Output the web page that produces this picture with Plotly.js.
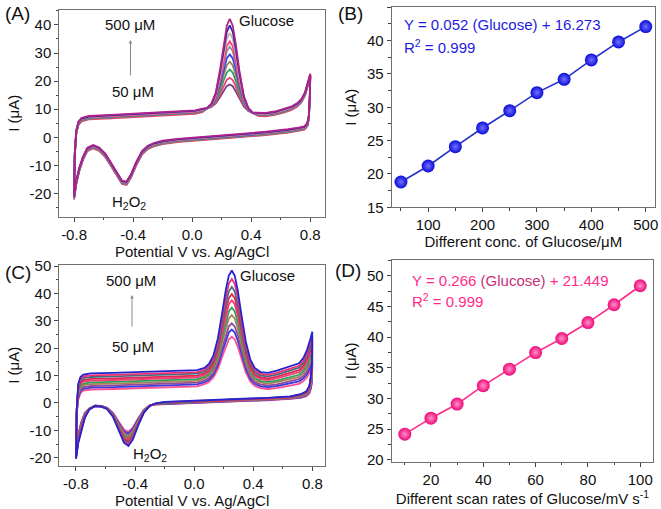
<!DOCTYPE html>
<html>
<head>
<meta charset="utf-8">
<script src="https://cdn.plot.ly/plotly-3.0.1.min.js"></script>
<style>html,body{margin:0;padding:0;background:#fff;}#chart{width:661px;height:509px;}</style>
</head>
<body>
<div id="chart"></div>
<script>
// ---------- shared potential grids (V vs Ag/AgCl) ----------
const UX = [-0.8, -0.795, -0.785, -0.77, -0.75, -0.7, -0.55, -0.4, -0.25, -0.1, 0.02, 0.07, 0.1, 0.13, 0.16, 0.19, 0.215, 0.235, 0.255, 0.275, 0.295, 0.32, 0.35, 0.38, 0.41, 0.45, 0.5, 0.56, 0.62, 0.67, 0.71, 0.74, 0.765, 0.785, 0.8];
const LX = [0.797, 0.79, 0.78, 0.76, 0.72, 0.65, 0.5, 0.35, 0.2, 0.05, -0.1, -0.2, -0.26, -0.3, -0.34, -0.38, -0.415, -0.445, -0.475, -0.51, -0.55, -0.59, -0.63, -0.67, -0.71, -0.74, -0.765, -0.785, -0.795, -0.8];

// ---------- panel A: CVs at glucose 50..500 uM (forward / reverse scans, I in uA) ----------
const A_names = ['50 μM','100 μM','150 μM','200 μM','250 μM','300 μM','350 μM','400 μM','450 μM','500 μM'];
const A_colors = ['#7a3a8a','#f0407a','#2e9e5a','#a5805a','#3040e8','#8a8a9a','#ff3a7a','#c8b49a','#2a2ab0','#b0208a'];
const A_forward = [
 [-21.9,-6.4,1.6,4.6,5.9,6.6,7.0,7.4,7.7,8.1,8.6,9.2,10.3,10.8,12.1,14.4,16.7,18.3,18.8,18.2,16.4,13.7,11.0,9.4,8.7,7.8,7.7,8.2,9.0,9.9,11.1,12.6,15.1,18.6,21.6],
 [-22.1,-6.6,1.4,4.4,5.7,6.4,6.8,7.2,7.5,7.9,8.4,9.0,10.3,11.0,12.5,15.4,18.5,20.5,21.2,20.4,18.2,14.7,11.4,9.6,8.7,7.6,7.5,8.0,8.8,9.7,10.9,12.4,14.9,18.4,21.4],
 [-21.8,-6.3,1.7,4.7,6.0,6.7,7.1,7.5,7.8,8.2,8.7,9.3,10.3,11.1,13.0,16.6,20.5,23.1,24.1,23.0,20.2,15.9,11.9,9.7,8.7,7.9,7.8,8.3,9.1,10.0,11.2,12.7,15.2,18.7,21.7],
 [-21.7,-6.2,1.8,4.8,6.1,6.8,7.2,7.6,7.9,8.3,8.8,9.4,10.3,11.2,13.4,17.8,22.5,25.7,26.9,25.6,22.2,17.1,12.3,9.8,8.7,8.0,7.9,8.4,9.2,10.1,11.3,12.8,15.3,18.8,21.8],
 [-21.5,-6.0,2.0,5.0,6.3,7.0,7.4,7.8,8.1,8.5,9.0,9.6,10.3,11.3,13.9,19.0,24.5,28.2,29.5,28.1,24.2,18.3,12.8,9.9,8.7,8.2,8.1,8.6,9.4,10.3,11.5,13.0,15.5,19.0,22.0],
 [-21.4,-5.9,2.1,5.1,6.4,7.1,7.5,7.9,8.2,8.6,9.1,9.7,10.4,11.4,14.3,20.2,26.5,30.7,32.2,30.6,26.2,19.5,13.2,10.0,8.8,8.3,8.2,8.7,9.5,10.4,11.6,13.1,15.6,19.1,22.1],
 [-21.3,-5.8,2.2,5.2,6.5,7.2,7.6,8.0,8.3,8.7,9.2,9.8,10.4,11.5,14.6,21.0,27.9,32.5,34.2,32.4,27.6,20.3,13.5,10.1,8.8,8.4,8.3,8.8,9.6,10.5,11.7,13.2,15.7,19.2,22.2],
 [-21.2,-5.7,2.3,5.3,6.6,7.3,7.7,8.1,8.4,8.8,9.3,9.9,10.4,11.7,15.1,22.2,30.0,35.1,37.1,35.0,29.7,21.5,14.0,10.3,8.8,8.5,8.4,8.9,9.7,10.6,11.8,13.3,15.8,19.3,22.3],
 [-21.1,-5.6,2.4,5.4,6.7,7.4,7.8,8.2,8.5,8.9,9.4,10.0,10.4,11.8,15.5,23.4,31.9,37.6,39.8,37.5,31.6,22.7,14.4,10.4,8.8,8.6,8.5,9.0,9.8,10.7,11.9,13.4,15.9,19.4,22.4],
 [-20.9,-5.4,2.6,5.6,6.9,7.6,8.0,8.4,8.7,9.1,9.6,10.2,10.4,11.9,15.9,24.4,33.7,39.8,42.1,39.7,33.4,23.7,14.8,10.5,8.8,8.8,8.7,9.2,10.0,10.9,12.1,13.6,16.1,19.6,22.6]
];
const A_reverse = [
 [13.6,6.6,4.1,2.9,2.5,1.9,1.0,0.3,-0.3,-0.9,-1.5,-2.2,-3.0,-4.0,-5.9,-9.9,-14.2,-16.7,-16.4,-13.6,-10.0,-6.7,-4.6,-3.7,-4.7,-7.9,-11.9,-16.4,-20.4,-21.9],
 [13.4,6.4,3.9,2.7,2.3,1.7,0.8,0.1,-0.5,-1.1,-1.7,-2.4,-3.2,-4.2,-6.1,-10.1,-14.4,-16.9,-16.6,-13.8,-10.2,-6.9,-4.8,-3.9,-4.9,-8.1,-12.1,-16.6,-20.6,-22.1],
 [13.7,6.7,4.2,3.0,2.6,2.0,1.1,0.4,-0.2,-0.8,-1.4,-2.1,-2.9,-3.9,-5.8,-9.8,-14.1,-16.6,-16.3,-13.5,-9.9,-6.6,-4.5,-3.6,-4.6,-7.8,-11.8,-16.3,-20.3,-21.8],
 [13.8,6.8,4.3,3.1,2.7,2.1,1.2,0.5,-0.1,-0.7,-1.3,-2.0,-2.8,-3.8,-5.7,-9.7,-14.0,-16.5,-16.2,-13.4,-9.8,-6.5,-4.4,-3.5,-4.5,-7.7,-11.7,-16.2,-20.2,-21.7],
 [14.0,7.0,4.5,3.3,2.9,2.3,1.4,0.7,0.1,-0.5,-1.1,-1.8,-2.6,-3.6,-5.5,-9.5,-13.8,-16.3,-16.0,-13.2,-9.6,-6.3,-4.2,-3.3,-4.3,-7.5,-11.5,-16.0,-20.0,-21.5],
 [14.1,7.1,4.6,3.4,3.0,2.4,1.5,0.8,0.2,-0.4,-1.0,-1.7,-2.5,-3.5,-5.4,-9.4,-13.7,-16.2,-15.9,-13.1,-9.5,-6.2,-4.1,-3.2,-4.2,-7.4,-11.4,-15.9,-19.9,-21.4],
 [14.2,7.2,4.7,3.5,3.1,2.5,1.6,0.9,0.3,-0.3,-0.9,-1.6,-2.4,-3.4,-5.3,-9.3,-13.6,-16.1,-15.8,-13.0,-9.4,-6.1,-4.0,-3.1,-4.1,-7.3,-11.3,-15.8,-19.8,-21.3],
 [14.3,7.3,4.8,3.6,3.2,2.6,1.7,1.0,0.4,-0.2,-0.8,-1.5,-2.3,-3.3,-5.2,-9.2,-13.5,-16.0,-15.7,-12.9,-9.3,-6.0,-3.9,-3.0,-4.0,-7.2,-11.2,-15.7,-19.7,-21.2],
 [14.4,7.4,4.9,3.7,3.3,2.7,1.8,1.1,0.5,-0.1,-0.7,-1.4,-2.2,-3.2,-5.1,-9.1,-13.4,-15.9,-15.6,-12.8,-9.2,-5.9,-3.8,-2.9,-3.9,-7.1,-11.1,-15.6,-19.6,-21.1],
 [14.6,7.6,5.1,3.9,3.5,2.9,2.0,1.3,0.7,0.1,-0.5,-1.2,-2.0,-3.0,-4.9,-8.9,-13.2,-15.7,-15.4,-12.6,-9.0,-5.7,-3.6,-2.7,-3.7,-6.9,-10.9,-15.4,-19.4,-20.9]
];

// ---------- panel B: peak current vs glucose concentration ----------
const B_conc = [50, 100, 150, 200, 250, 300, 350, 400, 450, 500];
const B_current = [18.8, 21.2, 24.1, 26.9, 29.5, 32.2, 34.2, 37.1, 39.8, 42.1];

// ---------- panel C: CVs at scan rates 10..100 mV/s ----------
const C_names = ['10 mV/s','20 mV/s','30 mV/s','40 mV/s','50 mV/s','60 mV/s','70 mV/s','80 mV/s','90 mV/s','100 mV/s'];
const C_colors = ['#ff4f8f','#3a3ae0','#8e4aa0','#a8805a','#2ea05a','#f0407a','#e02850','#3f6f80','#f03070','#2424d0'];
const C_forward = [
 [-19.0,-4.0,1.1,3.6,4.5,4.9,5.1,5.3,5.5,5.7,6.1,6.9,7.7,9.3,12.3,16.9,20.9,23.3,24.2,23.2,20.6,16.2,11.2,7.9,6.2,5.4,5.1,5.4,6.0,6.5,7.0,8.0,9.5,11.5,13.0],
 [-19.2,-3.8,1.8,4.3,5.2,5.6,5.8,6.0,6.2,6.4,6.8,7.6,8.5,10.2,13.6,18.6,23.1,25.8,26.8,25.7,22.8,17.9,12.5,8.8,7.0,6.1,5.8,6.2,6.8,7.3,7.9,9.0,10.7,12.8,14.5],
 [-19.3,-3.6,2.4,4.9,5.8,6.2,6.4,6.6,6.8,7.0,7.4,8.2,9.1,11.0,14.7,20.2,25.1,28.0,29.1,27.9,24.8,19.5,13.6,9.6,7.6,6.7,6.4,6.8,7.5,8.1,8.7,9.9,11.7,14.0,15.9],
 [-19.5,-3.4,3.1,5.6,6.5,6.9,7.1,7.3,7.5,7.7,8.1,8.9,9.9,12.0,16.0,22.2,27.6,30.9,32.1,30.8,27.3,21.5,14.9,10.6,8.4,7.4,7.1,7.6,8.3,8.9,9.5,10.9,12.9,15.4,17.4],
 [-19.6,-3.2,3.7,6.2,7.1,7.5,7.7,7.9,8.1,8.3,8.7,9.5,10.6,12.8,17.2,23.9,29.9,33.5,34.8,33.4,29.6,23.2,16.1,11.4,9.1,8.0,7.7,8.2,9.0,9.7,10.3,11.8,13.9,16.6,18.8],
 [-19.8,-3.0,4.4,6.9,7.8,8.2,8.4,8.6,8.8,9.0,9.4,10.2,11.4,13.7,18.5,25.7,32.2,36.1,37.5,36.0,31.9,25.0,17.4,12.3,9.9,8.7,8.4,9.0,9.8,10.5,11.2,12.8,15.1,17.9,20.3],
 [-19.9,-2.8,5.0,7.5,8.4,8.8,9.0,9.2,9.4,9.6,10.0,10.8,12.0,14.5,19.6,27.3,34.2,38.3,39.8,38.2,33.9,26.6,18.5,13.1,10.5,9.3,9.0,9.6,10.5,11.2,12.0,13.6,16.1,19.1,21.6],
 [-20.1,-2.6,5.7,8.2,9.1,9.5,9.7,9.9,10.1,10.3,10.7,11.5,12.8,15.4,20.8,29.0,36.4,40.8,42.4,40.7,36.1,28.3,19.7,14.0,11.3,10.0,9.7,10.4,11.3,12.1,12.9,14.6,17.3,20.4,23.1],
 [-20.2,-2.4,6.3,8.8,9.7,10.1,10.3,10.5,10.7,10.9,11.3,12.1,13.5,16.3,22.1,30.9,38.9,43.6,45.3,43.5,38.6,30.2,21.0,14.9,12.0,10.6,10.3,11.0,12.0,12.8,13.6,15.5,18.3,21.7,24.5],
 [-20.4,-2.2,7.0,9.5,10.4,10.8,11.0,11.2,11.4,11.6,12.0,12.8,14.3,17.3,23.5,33.0,41.5,46.5,48.4,46.4,41.2,32.3,22.4,15.9,12.8,11.3,11.0,11.8,12.8,13.7,14.5,16.5,19.5,23.0,26.0]
];
const C_reverse = [
 [7.2,5.0,3.5,2.5,1.9,1.5,1.0,0.7,0.5,0.2,-0.1,-0.4,-0.6,-0.8,-2.4,-5.7,-9.0,-10.5,-9.7,-6.9,-3.6,-1.8,-1.1,-1.0,-2.0,-3.6,-7.0,-11.5,-16.0,-19.0],
 [8.0,5.5,3.8,2.7,2.0,1.6,1.1,0.8,0.6,0.3,0.0,-0.3,-0.5,-0.9,-2.6,-6.0,-9.5,-11.1,-10.3,-7.3,-3.7,-1.8,-1.1,-1.0,-2.0,-3.8,-7.4,-11.9,-16.3,-19.2],
 [8.7,6.0,4.1,2.9,2.2,1.7,1.2,0.9,0.7,0.4,0.1,-0.2,-0.4,-0.9,-2.7,-6.3,-10.0,-11.7,-10.8,-7.7,-3.9,-1.9,-1.2,-1.0,-2.1,-4.0,-7.7,-12.2,-16.6,-19.3],
 [9.6,6.5,4.4,3.1,2.3,1.8,1.3,1.0,0.8,0.4,0.1,-0.1,-0.4,-0.9,-2.8,-6.6,-10.4,-12.2,-11.3,-8.0,-4.0,-1.9,-1.2,-1.0,-2.1,-4.2,-8.1,-12.6,-16.9,-19.5],
 [10.3,7.0,4.7,3.3,2.5,1.9,1.4,1.1,0.8,0.5,0.2,0.0,-0.3,-0.9,-2.9,-6.9,-10.9,-12.8,-11.9,-8.4,-4.2,-1.9,-1.2,-1.0,-2.2,-4.4,-8.4,-12.9,-17.2,-19.6],
 [11.2,7.5,5.0,3.5,2.6,2.0,1.5,1.2,0.9,0.6,0.3,0.0,-0.3,-1.0,-3.0,-7.2,-11.4,-13.4,-12.4,-8.8,-4.4,-2.0,-1.2,-1.1,-2.2,-4.6,-8.8,-13.3,-17.5,-19.8],
 [11.9,8.0,5.3,3.7,2.8,2.1,1.6,1.3,1.0,0.6,0.3,0.1,-0.2,-1.0,-3.2,-7.5,-11.9,-14.0,-13.0,-9.1,-4.5,-2.0,-1.2,-1.1,-2.3,-4.8,-9.1,-13.6,-17.8,-19.9],
 [12.7,8.5,5.6,3.9,2.9,2.2,1.7,1.4,1.1,0.7,0.4,0.2,-0.2,-1.0,-3.3,-7.9,-12.5,-14.6,-13.5,-9.5,-4.7,-2.1,-1.2,-1.1,-2.3,-5.0,-9.5,-14.0,-18.1,-20.1],
 [13.5,9.0,5.9,4.1,3.1,2.3,1.8,1.5,1.2,0.8,0.5,0.3,-0.1,-1.1,-3.4,-8.1,-12.9,-15.1,-14.0,-9.8,-4.8,-2.1,-1.3,-1.1,-2.4,-5.2,-9.8,-14.3,-18.4,-20.2],
 [14.3,9.5,6.2,4.3,3.2,2.4,1.9,1.6,1.3,0.9,0.5,0.4,-0.1,-1.1,-3.5,-8.4,-13.4,-15.7,-14.5,-10.2,-5.0,-2.2,-1.3,-1.1,-2.4,-5.4,-10.2,-14.7,-18.7,-20.4]
];

// ---------- panel D: peak current vs scan rate ----------
const D_rate = [10, 20, 30, 40, 50, 60, 70, 80, 90, 100];
const D_current = [24.2, 26.8, 29.1, 32.1, 34.8, 37.5, 39.8, 42.4, 45.3, 48.4];

// ---------- tick labels ----------
const CV_xticks = [-0.8, -0.4, 0, 0.4, 0.8];
const CV_xlabels = ['-0.8', '-0.4', '0.0', '0.4', '0.8'];
const A_yticks = [-20, -10, 0, 10, 20, 30, 40];
const A_ylabels = ['-20', '-10', '0', '10', '20', '30', '40'];
const C_yticks = [-20, -10, 0, 10, 20, 30, 40, 50];
const C_ylabels = ['-20', '-10', '0', '10', '20', '30', '40', '50'];

// ---------- build ----------
const FONT = 'Liberation Sans, Arial, Helvetica, sans-serif';
const traces = [];
for (let i = 0; i < A_forward.length; i++) {
  traces.push({type:'scatter', mode:'lines', name:A_names[i], xaxis:'x', yaxis:'y',
    x: UX.concat(LX), y: A_forward[i].concat(A_reverse[i]),
    line:{color:A_colors[i], width:1.8}, showlegend:false, hoverinfo:'skip'});
}
traces.push({type:'scatter', mode:'lines+markers', xaxis:'x2', yaxis:'y2', x:B_conc, y:B_current,
  line:{color:'#2233cc', width:1.6},
  marker:{size:13, color:'#0c0cd8', gradient:{type:'radial', color:'#7070ff'}, line:{width:0}},
  showlegend:false});
for (let i = 0; i < C_forward.length; i++) {
  traces.push({type:'scatter', mode:'lines', name:C_names[i], xaxis:'x3', yaxis:'y3',
    x: UX.concat(LX), y: C_forward[i].concat(C_reverse[i]),
    line:{color:C_colors[i], width:1.8}, showlegend:false, hoverinfo:'skip'});
}
traces.push({type:'scatter', mode:'lines+markers', xaxis:'x4', yaxis:'y4', x:D_rate, y:D_current,
  line:{color:'#ff2a8a', width:1.6},
  marker:{size:13, color:'#ee0a78', gradient:{type:'radial', color:'#ff90c8'}, line:{width:0}},
  showlegend:false});

function ax(extra) {
  return Object.assign({
    showline:true, mirror:true, linecolor:'#707070', linewidth:1,
    ticks:'outside', ticklen:4, tickwidth:1, tickcolor:'#444',
    showgrid:false, zeroline:false, automargin:false,
    tickfont:{family:FONT, size:15, color:'#111'},
  }, extra);
}
const titleFont = {family:FONT, size:15, color:'#111'};
function note(text, x, y, size, color, anchor) {
  return {text:text, x:x, y:y, xref:'paper', yref:'paper', showarrow:false,
    xanchor:anchor || 'center', yanchor:'middle', font:{family:FONT, size:size, color:color}};
}

const layout = {
  width:661, height:509, margin:{l:0, r:0, t:0, b:0},
  paper_bgcolor:'#fff', plot_bgcolor:'#fff', font:{family:FONT, color:'#111'},
  xaxis: ax({domain:[0.0897, 0.4917], range:[-0.9, 0.9], anchor:'y',
    tickmode:'array', tickvals:CV_xticks, ticktext:CV_xlabels,
    minor:{ticks:'outside', ticklen:2.5, tickcolor:'#444', tickmode:'linear', tick0:0, dtick:0.2},
    title:{text:'Potential V vs. Ag/AgCl', font:titleFont, standoff:4}}),
  yaxis: ax({domain:[0.5743, 0.9804], range:[-28.2, 45.3], anchor:'x',
    tickmode:'array', tickvals:A_yticks, ticktext:A_ylabels,
    minor:{ticks:'outside', ticklen:2.5, tickcolor:'#444', tickmode:'linear', tick0:0, dtick:5},
    title:{text:'I (μA)', font:titleFont, standoff:6}}),
  xaxis2: ax({domain:[0.5926, 0.9909], range:[33, 517], anchor:'y2', dtick:100, tick0:0,
    minor:{ticks:'outside', ticklen:2.5, tickcolor:'#444', dtick:50, tick0:0},
    title:{text:'Different conc. of Glucose/μM', font:titleFont, standoff:4}}),
  yaxis2: ax({domain:[0.5927, 0.9857], range:[15, 45], anchor:'x2', dtick:5, tick0:0,
    minor:{ticks:'outside', ticklen:2.5, tickcolor:'#444', dtick:2.5, tick0:0},
    title:{text:'I (μA)', font:titleFont, standoff:6}}),
  xaxis3: ax({domain:[0.0897, 0.4917], range:[-0.913, 0.886], anchor:'y3',
    tickmode:'array', tickvals:CV_xticks, ticktext:CV_xlabels,
    minor:{ticks:'outside', ticklen:2.5, tickcolor:'#444', tickmode:'linear', tick0:0, dtick:0.2},
    title:{text:'Potential V vs. Ag/AgCl', font:titleFont, standoff:4}}),
  yaxis3: ax({domain:[0.0851, 0.4794], range:[-22.9, 50.4], anchor:'x3',
    tickmode:'array', tickvals:C_yticks, ticktext:C_ylabels,
    minor:{ticks:'outside', ticklen:2.5, tickcolor:'#444', tickmode:'linear', tick0:0, dtick:5},
    title:{text:'I (μA)', font:titleFont, standoff:6}}),
  xaxis4: ax({domain:[0.5926, 0.9884], range:[5, 105], anchor:'y4', dtick:20, tick0:0,
    minor:{ticks:'outside', ticklen:2.5, tickcolor:'#444', dtick:10, tick0:0},
    title:{text:'Different scan rates of Glucose/mV s<sup>-1</sup>', font:titleFont, standoff:4}}),
  yaxis4: ax({domain:[0.0929, 0.4892], range:[19.7, 52.6], anchor:'x4', dtick:5, tick0:0,
    minor:{ticks:'outside', ticklen:2.5, tickcolor:'#444', dtick:2.5, tick0:0},
    title:{text:'I (μA)', font:titleFont, standoff:6}}),
  annotations: [
    note('(A)', 0.0265, 0.9725, 19, '#111'),
    note('(B)', 0.530, 0.9725, 19, '#111'),
    note('(C)', 0.0265, 0.4656, 19, '#111'),
    note('(D)', 0.5265, 0.4695, 19, '#111'),
    note('500 μM', 0.1967, 0.9509, 15, '#111'),
    note('50 μM', 0.2012, 0.8193, 15, '#111'),
    {text:'', x:0.1974, y:0.9214, xref:'paper', yref:'paper', showarrow:true, ax:0, ay:37, arrowhead:2, arrowsize:0.7, arrowwidth:1, arrowcolor:'#888'},
    note('Glucose', 0.4039, 0.9607, 15, '#111'),
    note('H<sub>2</sub>O<sub>2</sub>', 0.1952, 0.6031, 15, '#111'),
    note('500 μM', 0.1982, 0.4499, 15, '#111'),
    note('50 μM', 0.2012, 0.3183, 15, '#111'),
    {text:'', x:0.1997, y:0.4204, xref:'paper', yref:'paper', showarrow:true, ax:0, ay:33, arrowhead:2, arrowsize:0.7, arrowwidth:1, arrowcolor:'#888'},
    note('Glucose', 0.4054, 0.4578, 15, '#111'),
    note('H<sub>2</sub>O<sub>2</sub>', 0.2269, 0.1061, 15, '#111'),
    note('Y = 0.052 (Glucose) + 16.273', 0.6082, 0.9509, 15, '#1c1ce0', 'left'),
    note('R<sup>2</sup> = 0.999', 0.6082, 0.9096, 15, '#1c1ce0', 'left'),
    note('Y = 0.266 <span style="color:#c8307a">(Glucose)</span> + 21.449', 0.6203, 0.4499, 15, '#ff2a8a', 'left'),
    note('R<sup>2</sup> = 0.999', 0.6203, 0.4106, 15, '#ff2a8a', 'left')
  ]
};

Plotly.newPlot('chart', traces, layout, {staticPlot:true, displayModeBar:false});
</script>
</body>
</html>
